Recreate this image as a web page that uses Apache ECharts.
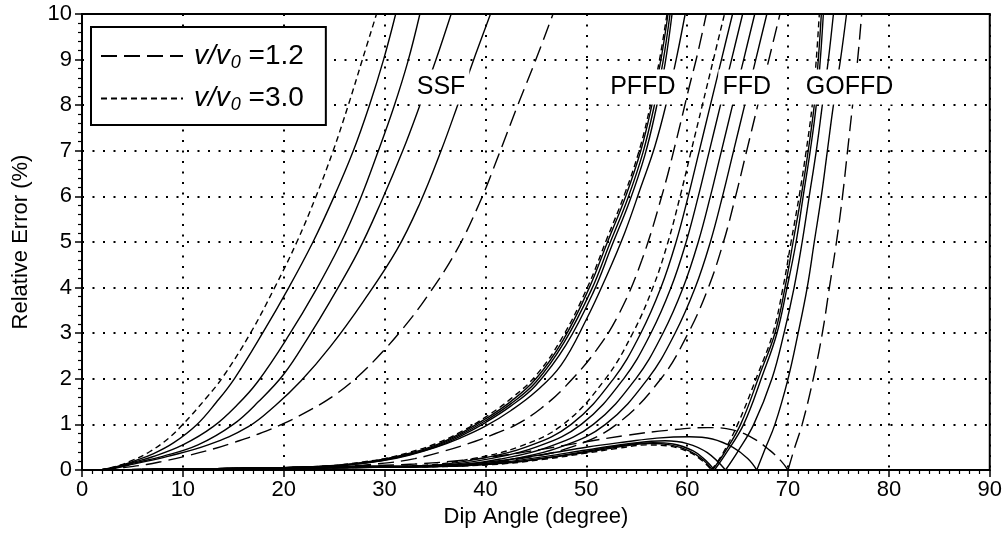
<!DOCTYPE html>
<html><head><meta charset="utf-8">
<script src="https://cdn.jsdelivr.net/npm/echarts@6/dist/echarts.min.js"></script>
<style>html,body{margin:0;padding:0;background:#fff}#c{width:1005px;height:535px}</style>
</head><body><div id="c"></div>
<script>
// ---- axes ----
const xMin = 0, xMax = 90, xStep = 10;
const yMin = 0, yMax = 10, yStep = 1;
const xTitle = 'Dip Angle (degree)';
const yTitle = 'Relative Error (%)';
const legendValues = ['1.2', '3.0'];

// ---- method labels ----
const labelNames = ['SSF', 'PFFD', 'FFD', 'GOFFD'];
const labelX = [35.6, 55.6, 65.9, 76.1];
const labelY = [8.4, 8.4, 8.4, 8.4];

// ---- SSF curves ----
const ssf30 = [[1.8,0],[3.5,0.09],[5.1,0.22],[6.7,0.4],[8.5,0.68],[10,1],[12.4,1.6],[14,2.05],[16.7,3],[19.1,4],[21.3,5],[23.2,6],[24.9,7],[26.4,8],[27.8,9],[29.2,10]];
const ssfS1 = [[1.8,0],[3.5,0.08],[5.1,0.19],[7.1,0.36],[9.1,0.6],[11.4,1],[13.3,1.48],[15.1,2],[17.9,3],[20.5,4],[22.9,5],[25,6],[26.9,7],[28.5,8],[29.9,9],[31.1,10]];
const ssfS2 = [[1.8,0],[3.5,0.07],[5.1,0.17],[7,0.29],[10,0.55],[13,0.95],[15.4,1.43],[17.4,1.93],[20.5,2.95],[23.2,3.95],[25.6,4.95],[27.6,5.95],[29.3,6.95],[30.9,7.95],[32.3,8.95],[33.5,10]];
const ssfS3 = [[1.8,0],[3.5,0.06],[5.1,0.15],[8,0.3],[11.5,0.55],[15,1],[17.5,1.5],[20,2.1],[22.4,2.9],[24.6,3.7],[27.4,4.8],[29.7,5.9],[31.8,7],[33.5,8],[35.1,9],[36.6,10]];
const ssfS4 = [[1.8,0],[3.5,0.05],[5.1,0.13],[8.5,0.3],[12.5,0.55],[16.5,0.95],[19.2,1.42],[21.7,1.95],[24.6,2.7],[27.9,3.7],[31.2,4.82],[33.5,5.85],[35.6,7],[37.4,8.1],[39,9.1],[40.5,10]];
const ssf12 = [[1.8,0],[4,0.05],[6.4,0.12],[8,0.19],[10.4,0.31],[13,0.46],[15,0.6],[17.5,0.79],[19.8,1],[22.5,1.3],[24.9,1.62],[27,1.98],[29.2,2.45],[31.8,3.1],[34.2,3.8],[37.1,4.8],[39.4,5.85],[41.3,6.9],[43.2,8],[45,9],[46.7,10]];

// ---- PFFD curves ----
const pffd30 = [[2,0],[10,0.02],[20,0.05],[25,0.1],[28,0.18],[30,0.25],[32.5,0.39],[35,0.57],[37.5,0.83],[40,1.16],[42.5,1.56],[45,2.07],[47.6,2.9],[50.2,4.05],[52,5.05],[53.8,6.05],[55.3,7.05],[56.4,8.05],[57.3,9.05],[58,10]];
const pffdS1 = [[2,0],[10,0.02],[20,0.05],[25,0.1],[28,0.17],[30,0.24],[32.5,0.37],[35,0.54],[37.5,0.8],[40,1.12],[42.5,1.5],[45,2],[47.7,2.85],[50.3,4],[52.1,5],[53.9,6],[55.4,7],[56.5,8],[57.4,9],[58.1,10]];
const pffdS2 = [[2,0],[10,0.02],[20,0.05],[25,0.09],[28,0.16],[30,0.23],[32.5,0.35],[35,0.52],[37.5,0.77],[40,1.08],[42.5,1.45],[45,1.93],[47.8,2.8],[50.5,3.95],[52.3,4.95],[54.1,5.95],[55.6,6.95],[56.7,7.95],[57.6,8.95],[58.3,10]];
const pffdS3 = [[2,0],[10,0.02],[20,0.05],[25,0.09],[28,0.15],[30,0.22],[32.5,0.34],[35,0.5],[37.5,0.74],[40,1.04],[42.5,1.4],[45,1.86],[48,2.75],[50.7,3.9],[52.5,4.9],[54.3,5.9],[55.8,6.9],[56.9,7.9],[57.8,8.9],[58.5,10]];
const pffdS4 = [[2,0],[10,0.02],[20,0.05],[25,0.09],[28,0.15],[30,0.21],[32.5,0.33],[35,0.49],[37.5,0.7],[40,0.96],[42.5,1.3],[45,1.72],[47.5,2.3],[50,3.3],[52,4.25],[53.8,5.2],[55.4,6.2],[56.8,7.1],[58,8.1],[59,9.1],[59.8,10]];
const pffd12 = [[2,0],[10,0.02],[20,0.04],[25,0.07],[30,0.15],[33,0.25],[36,0.42],[39,0.63],[41,0.8],[43.1,1],[45.5,1.35],[48,1.85],[51,2.63],[53.3,3.45],[55.5,4.6],[57.6,6.1],[59,7.3],[60.2,8.4],[61,9.1],[61.9,10]];

// ---- FFD curves ----
const ffd30 = [[2,0],[15,0.02],[25,0.05],[33.7,0.1],[38.7,0.25],[43.2,0.5],[47.7,1],[51.9,2],[54.6,3],[56.6,4],[58.1,5],[59.3,6],[60.4,7],[61.5,8],[62.6,9],[63.7,10]];
const ffdS1 = [[2,0],[15,0.02],[25,0.05],[34.5,0.1],[39.5,0.25],[44,0.5],[48.5,1],[52.7,2],[55.4,3],[57.4,4],[58.9,5],[60.1,6],[61.2,7],[62.3,8],[63.4,9],[64.5,10]];
const ffdS2 = [[2,0],[15,0.02],[25,0.05],[35.5,0.1],[40.5,0.25],[45,0.5],[49.5,1],[53.7,2],[56.4,3],[58.4,4],[59.9,5],[61.1,6],[62.2,7],[63.3,8],[64.4,9],[65.5,10]];
const ffdS3 = [[2,0],[15,0.02],[25,0.05],[36.7,0.1],[41.7,0.25],[46.2,0.5],[50.7,1],[54.9,2],[57.6,3],[59.6,4],[61.1,5],[62.3,6],[63.4,7],[64.5,8],[65.6,9],[66.7,10]];
const ffdS4 = [[2,0],[15,0.02],[25,0.05],[37.9,0.1],[42.9,0.25],[47.4,0.5],[51.9,1],[56.1,2],[58.8,3],[60.8,4],[62.3,5],[63.5,6],[64.6,7],[65.7,8],[66.8,9],[67.9,10]];
const ffd12 = [[2,0],[15,0.02],[25,0.05],[38,0.1],[43.5,0.25],[48.5,0.5],[53,1],[57.4,2],[60.1,3],[62.1,4],[63.6,5],[64.8,6],[65.9,7],[67,8],[68.1,9],[69.2,10]];

// ---- GOFFD curves (hump before the zero, rise after it) ----
const goffd30Hump = [[2,0],[10,0.02],[20,0.05],[27,0.08],[33,0.07],[38,0.09],[42,0.14],[46,0.24],[50,0.37],[53,0.47],[56,0.55],[58,0.53],[60,0.41],[61.4,0.22],[62.4,0]];
const goffd30Rise = [[62.4,0],[63.5,0.35],[65,1],[67,2.1],[68.5,3],[69.5,4],[70.3,5],[71.1,6],[71.8,7],[72.4,8],[72.8,9],[73.1,10]];
const goffdS1Hump = [[2,0],[10,0.02],[20,0.05],[27,0.08],[33,0.07],[38,0.1],[42,0.15],[46,0.26],[50,0.39],[53,0.5],[56.3,0.58],[58.3,0.55],[60.3,0.41],[61.6,0.22],[62.5,0]];
const goffdS1Rise = [[62.5,0],[63.6,0.35],[65.3,1],[67.2,2.1],[68.7,3],[69.7,4],[70.5,5],[71.3,6],[72,7],[72.6,8],[73,9],[73.3,10]];
const goffdS2Hump = [[2,0],[10,0.02],[20,0.05],[27,0.08],[33,0.08],[38,0.1],[42,0.16],[46,0.27],[50,0.41],[53,0.52],[56.6,0.6],[58.6,0.57],[60.6,0.42],[61.8,0.22],[62.7,0]];
const goffdS2Rise = [[62.7,0],[63.8,0.35],[65.6,1],[67.5,2.1],[68.9,3],[69.9,4],[70.8,5],[71.5,6],[72.2,7],[72.8,8],[73.2,9],[73.5,10]];
const goffdS3Hump = [[2,0],[10,0.02],[20,0.05],[27,0.08],[33,0.08],[38,0.11],[42,0.18],[46,0.3],[50,0.44],[54,0.57],[57.8,0.64],[60,0.58],[62,0.38],[63.8,0]];
const goffdS3Rise = [[63.8,0],[65,0.4],[66.6,1],[68.4,2],[69.6,3],[70.6,4],[71.4,5],[72.1,6],[72.8,7],[73.4,8],[74,9],[74.5,10]];
const goffdS4Hump = [[2,0],[10,0.02],[20,0.05],[27,0.08],[33,0.09],[38,0.13],[42,0.22],[46,0.35],[50,0.5],[54,0.62],[57,0.7],[60.2,0.73],[62.5,0.68],[64.5,0.5],[66,0.25],[66.9,0]];
const goffdS4Rise = [[66.9,0],[67.7,0.45],[68.7,1],[70,2],[71,3],[71.9,4],[72.6,5],[73.3,6],[73.9,7],[74.5,8],[75.2,9],[75.8,10]];
const goffd12Hump = [[2,0],[10,0.02],[20,0.05],[27,0.09],[33,0.13],[38,0.22],[42,0.33],[46,0.47],[50,0.62],[54,0.76],[58,0.87],[62,0.93],[64.5,0.88],[66.5,0.7],[68.2,0.43],[69.3,0.2],[70,0]];
const goffd12Rise = [[70,0],[70.6,0.45],[71.4,1],[72.5,2],[73.4,3],[74.1,4],[74.8,5],[75.4,6],[75.9,7],[76.4,8],[76.9,9],[77.3,10]];

// ---- styles ----
const FONT = '"Liberation Sans", Arial, Helvetica, sans-serif';
const LONG = [16, 7], SHORT = [6, 4];
const curves = [
  ['1.2', ssf12, LONG], ['3.0', ssf30, SHORT], ['s', ssfS1, 'solid'], ['s', ssfS2, 'solid'], ['s', ssfS3, 'solid'], ['s', ssfS4, 'solid'],
  ['1.2', pffd12, LONG], ['3.0', pffd30, SHORT], ['s', pffdS1, 'solid'], ['s', pffdS2, 'solid'], ['s', pffdS3, 'solid'], ['s', pffdS4, 'solid'],
  ['1.2', ffd12, LONG], ['3.0', ffd30, SHORT], ['s', ffdS1, 'solid'], ['s', ffdS2, 'solid'], ['s', ffdS3, 'solid'], ['s', ffdS4, 'solid'],
  ['1.2', goffd12Hump, LONG], ['1.2', goffd12Rise, LONG], ['3.0', goffd30Hump, SHORT], ['3.0', goffd30Rise, SHORT],
  ['s', goffdS1Hump, 'solid'], ['s', goffdS1Rise, 'solid'], ['s', goffdS2Hump, 'solid'], ['s', goffdS2Rise, 'solid'],
  ['s', goffdS3Hump, 'solid'], ['s', goffdS3Rise, 'solid'], ['s', goffdS4Hump, 'solid'], ['s', goffdS4Rise, 'solid']
];

const series = curves.map(function (c) {
  return {
    type: 'line', name: c[0], data: c[1], smooth: 0.4, symbol: 'none', clip: true,
    lineStyle: { color: '#000', width: 1.4, type: c[2] }, itemStyle: { color: '#000' },
    z: 3, silent: true
  };
});
series.push({
  type: 'scatter', name: 'labels', symbolSize: 0, z: 20, silent: true,
  itemStyle: { opacity: 1, color: '#000' },
  data: labelNames.map(function (n, i) { return { name: n, value: [labelX[i], labelY[i]] }; }),
  label: {
    show: true, position: 'inside', formatter: '{b}', color: '#000', opacity: 1, fontSize: 25, fontFamily: FONT,
    backgroundColor: '#fff', padding: [5, 4], textBorderWidth: 0
  }
});

const chart = echarts.init(document.getElementById('c'), null, { renderer: 'canvas' });
chart.setOption({
  animation: false,
  backgroundColor: '#fff',
  grid: { left: 82, right: 15, top: 14, bottom: 65, show: true, borderColor: '#000', borderWidth: 2, backgroundColor: 'transparent' },
  legend: {
    data: legendValues, orient: 'vertical', left: 91, top: 27,
    padding: [15, 22, 11, 9], itemGap: 13, itemWidth: 82, itemHeight: 20,
    backgroundColor: '#fff', borderColor: '#000', borderWidth: 2, borderRadius: 0,
    selectedMode: false, z: 30,
    itemStyle: { opacity: 0, borderWidth: 0 },
    formatter: function (n) { return '{v|v/v}{s|0}{n| =' + n + '}'; },
    textStyle: {
      color: '#000', fontFamily: FONT, fontSize: 28,
      rich: {
        v: { fontStyle: 'italic', fontSize: 28, fontFamily: FONT, color: '#000', padding: [0, 0, 0, 6] },
        s: { fontStyle: 'italic', fontSize: 18, fontFamily: FONT, color: '#000', padding: [13, 0, 0, 1] },
        n: { fontSize: 28, fontFamily: FONT, color: '#000' }
      }
    }
  },
  xAxis: {
    type: 'value', min: xMin, max: xMax, interval: xStep,
    name: xTitle, nameLocation: 'middle', nameGap: 36,
    nameTextStyle: { fontSize: 22, fontFamily: FONT, color: '#000' },
    axisLine: { show: true, onZero: false, lineStyle: { color: '#000', width: 2 } },
    axisTick: { show: true, length: 7, lineStyle: { color: '#000', width: 1.5 } },
    minorTick: { show: true, splitNumber: 10, length: 4, lineStyle: { color: '#000', width: 1.2 } },
    axisLabel: { fontSize: 22, fontFamily: FONT, color: '#000', margin: 9 },
    splitLine: { show: true, lineStyle: { color: '#000', width: 2, type: [2, 8.5] } }
  },
  yAxis: {
    type: 'value', min: yMin, max: yMax, interval: yStep,
    name: yTitle, nameLocation: 'middle', nameGap: 50, nameRotate: 90,
    nameTextStyle: { fontSize: 22, fontFamily: FONT, color: '#000' },
    axisLine: { show: true, onZero: false, lineStyle: { color: '#000', width: 2 } },
    axisTick: { show: true, length: 7, lineStyle: { color: '#000', width: 1.5 } },
    minorTick: { show: true, splitNumber: 5, length: 4, lineStyle: { color: '#000', width: 1.2 } },
    axisLabel: { fontSize: 22, fontFamily: FONT, color: '#000', margin: 10 },
    splitLine: { show: true, lineStyle: { color: '#000', width: 2, type: [2, 8.5] } }
  },
  series: series
});
</script></body></html>
